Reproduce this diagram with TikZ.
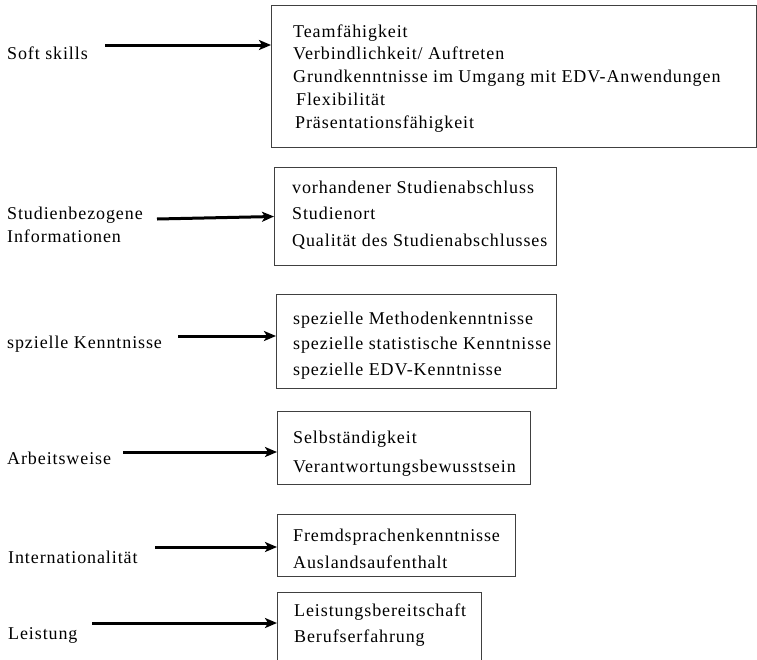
\documentclass[tikz,border=0pt]{standalone}
\usepackage{fontspec}
\setmainfont{Liberation Serif}[LetterSpace=5]
\usetikzlibrary{arrows.meta}
\tikzset{
	kasten/.style={draw=black!75, line width=1pt, anchor=north west, inner sep=0pt},
	pfeil/.style={-{Stealth[length=12pt,width=10pt,inset=3pt]}, line width=3pt},
	merkmal/.style={anchor=base west, inner sep=0pt, align=left},
}
\begin{document}
\begin{tikzpicture}[x=1pt, y=-1pt]
			\useasboundingbox (0,0) rectangle (757,659);
			% Kaesten
			\node[kasten, minimum width=485pt, minimum height=142pt] (box1) at (271,5) {};
			\node[kasten, minimum width=282pt, minimum height=98pt] (box2) at (274,167) {};
			\node[kasten, minimum width=280pt, minimum height=94pt] (box3) at (276,294) {};
			\node[kasten, minimum width=253pt, minimum height=73pt] (box4) at (277,411) {};
			\node[kasten, minimum width=238pt, minimum height=62pt] (box5) at (277,514) {};
			\node[kasten, minimum width=204pt, minimum height=78pt] (box6) at (277,592) {};
			% Inhalte (Anker an der letzten Zeile)
			\node[merkmal, font=\fontsize{18}{22.75}\selectfont] (inh1) at (293,128) {Teamfähigkeit\\Verbindlichkeit/ Auftreten\\Grundkenntnisse im Umgang mit EDV-Anwendungen\\\hspace{3pt}Flexibilität\\\hspace{2pt}Präsentationsfähigkeit};
			\node[merkmal, font=\fontsize{18}{26.5}\selectfont] (inh2) at (292,246) {vorhandener Studienabschluss\\Studienort\\Qualität des Studienabschlusses};
			\node[merkmal, font=\fontsize{18}{25.5}\selectfont] (inh3) at (293,375) {spezielle Methodenkenntnisse\\spezielle statistische Kenntnisse\\spezielle EDV-Kenntnisse};
			\node[merkmal, font=\fontsize{18}{29}\selectfont] (inh4) at (293,472) {Selbständigkeit\\Verantwortungsbewusstsein};
			\node[merkmal, font=\fontsize{18}{27}\selectfont] (inh5) at (293,568) {Fremdsprachenkenntnisse\\Auslandsaufenthalt};
			\node[merkmal, font=\fontsize{18}{26}\selectfont] (inh6) at (294,642) {Leistungsbereitschaft\\Berufserfahrung};
			% Merkmale links
			\node[merkmal, font=\fontsize{18}{23}\selectfont] (soft) at (7,59) {Soft skills};
			\node[merkmal, font=\fontsize{18}{23}\selectfont] (studium) at (7,242) {Studienbezogene\\Informationen};
			\node[merkmal, font=\fontsize{18}{23}\selectfont] (kenntnis) at (7,348) {spzielle Kenntnisse};
			\node[merkmal, font=\fontsize{18}{23}\selectfont] (arbeit) at (7,464) {Arbeitsweise};
			\node[merkmal, font=\fontsize{18}{23}\selectfont] (intern) at (8,563) {Internationalität};
			\node[merkmal, font=\fontsize{18}{23}\selectfont] (leistung) at (8,639) {Leistung};
			% Pfeile
			\coordinate (a1) at (105,45);
			\coordinate (a2) at (157,219);
			\coordinate (a3) at (178,336);
			\coordinate (a4) at (123,452);
			\coordinate (a5) at (155,547);
			\coordinate (a6) at (92,623);
			\draw[pfeil] (a1) -- (a1 -| box1.west);
			\draw[pfeil] (a2) -- (box2.west);
			\draw[pfeil] (a3) -- (a3 -| box3.west);
			\draw[pfeil] (a4) -- (a4 -| box4.west);
			\draw[pfeil] (a5) -- (a5 -| box5.west);
			\draw[pfeil] (a6) -- (a6 -| box6.west);
\end{tikzpicture}
\end{document}
